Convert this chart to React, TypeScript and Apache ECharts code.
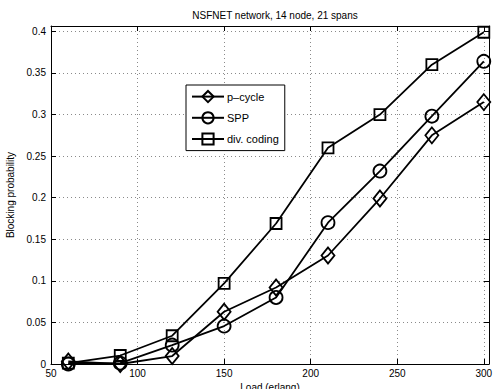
import React, { useEffect, useRef } from "react";
import * as echarts from "echarts";

const loads = [60, 90, 120, 150, 180, 210, 240, 270, 300];
const pCycle = [0.003, 0.0, 0.0096, 0.0628, 0.092, 0.1305, 0.199, 0.275, 0.315];
const spp = [0.0, 0.001, 0.0228, 0.0456, 0.08, 0.17, 0.232, 0.298, 0.364];
const divCoding = [0.001, 0.0102, 0.034, 0.097, 0.169, 0.26, 0.3, 0.36, 0.399];
const seriesNames = ["p–cycle", "SPP", "div. coding"];
const titleText = "NSFNET network, 14 node, 21 spans";
const xName = "Load (erlang)";
const yName = "Blocking probability";

const FONT = "'Liberation Sans', Arial, Helvetica, sans-serif";

export default function App() {
  const ref = useRef<HTMLDivElement>(null);
  useEffect(() => {
    if (!ref.current) return;
    const chart = echarts.init(ref.current, undefined, { renderer: "svg" });
    const mk = (name: string, data: number[], symbol: string, size: any) => ({
      name,
      type: "line",
      data: loads.map((x, i) => [x, data[i]]),
      symbol,
      symbolSize: size,
      showAllSymbol: true,
      lineStyle: { color: "#000", width: 1.8 },
      itemStyle: { color: "rgba(255,255,255,0)", borderColor: "#000", borderWidth: 1.8 },
      emphasis: { disabled: true },
      z: 3,
    });
    const gridLine = { show: true, lineStyle: { color: "#8a8a8a", type: [1, 3], width: 1 } };
    chart.setOption({
      animation: false,
      backgroundColor: "#fff",
      textStyle: { fontFamily: FONT },
      title: {
        text: titleText,
        left: 270,
        textAlign: "center",
        top: 5,
        textStyle: { fontSize: 10, fontWeight: "normal", color: "#000", fontFamily: FONT },
      },
      grid: { left: 51, right: 5, top: 26, bottom: 25, outerBoundsMode: "none", containLabel: false },
      legend: {
        orient: "vertical",
        left: 186,
        top: 85,
        padding: [5, 6, 5, 5],
        itemWidth: 32,
        itemHeight: 14,
        itemGap: 8,
        backgroundColor: "#fff",
        borderColor: "#000",
        borderWidth: 1,
        borderRadius: 0,
        textStyle: { fontSize: 11, color: "#000", fontFamily: FONT, padding: [0, 0, 0, -2] },
        data: seriesNames,
      },
      xAxis: [
        {
          type: "value",
          min: 50,
          max: 303,
          interval: 50,
          name: xName,
          nameLocation: "middle",
          nameGap: 18,
          nameTextStyle: { fontSize: 10, color: "#000", fontFamily: FONT },
          axisLine: { show: true, onZero: false, lineStyle: { color: "#000", width: 1 } },
          axisTick: { show: true, inside: true, length: 5, lineStyle: { color: "#000" } },
          axisLabel: { fontSize: 10, color: "#000", margin: 4, showMaxLabel: false, fontFamily: FONT },
          splitLine: gridLine,
        },
        {
          type: "value",
          position: "top",
          min: 50,
          max: 303,
          interval: 50,
          axisLine: { show: true, onZero: false, lineStyle: { color: "#000", width: 1 } },
          axisTick: { show: true, inside: true, length: 5, lineStyle: { color: "#000" } },
          axisLabel: { show: false },
          splitLine: { show: false },
        },
      ],
      yAxis: [
        {
          type: "value",
          min: 0,
          max: 0.4065,
          interval: 0.05,
          name: yName,
          nameLocation: "middle",
          nameGap: 29,
          nameTextStyle: { fontSize: 10, color: "#000", fontFamily: FONT },
          axisLine: { show: true, onZero: false, lineStyle: { color: "#000", width: 1 } },
          axisTick: { show: true, inside: true, length: 5, lineStyle: { color: "#000" } },
          axisLabel: { fontSize: 10, color: "#000", margin: 5, showMaxLabel: false, fontFamily: FONT },
          splitLine: gridLine,
        },
        {
          type: "value",
          position: "right",
          min: 0,
          max: 0.4065,
          interval: 0.05,
          axisLine: { show: true, onZero: false, lineStyle: { color: "#000", width: 1 } },
          axisTick: { show: true, inside: true, length: 5, lineStyle: { color: "#000" } },
          axisLabel: { show: false },
          splitLine: { show: false },
        },
      ],
      series: [
        mk(seriesNames[0], pCycle, "diamond", [13, 16]),
        mk(seriesNames[1], spp, "circle", 13),
        mk(seriesNames[2], divCoding, "rect", 11),
      ],
    });
    return () => chart.dispose();
  }, []);
  return (
    <div
      ref={ref}
      style={{ position: "fixed", left: 0, top: 0, width: 494, height: 389, background: "#fff" }}
    />
  );
}
